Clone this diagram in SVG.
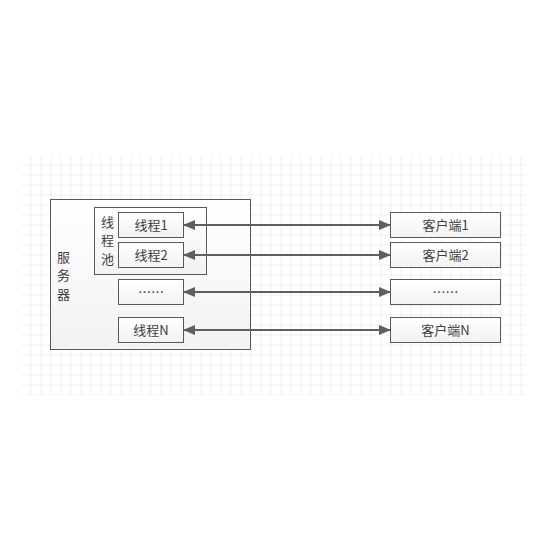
<svg xmlns="http://www.w3.org/2000/svg" width="555" height="550" viewBox="0 0 555 550">
<style>
.box{fill:url(#bf);stroke:#595959;stroke-width:1}
.t{font-family:"Microsoft YaHei","Noto Sans CJK SC",sans-serif;font-size:13px;fill:#404040;text-anchor:middle;dominant-baseline:central}
.c{stroke:#5f5f5f;stroke-width:2;fill:none;marker-start:url(#ah);marker-end:url(#ah)}
</style>
<defs>
<linearGradient id="bf" x1="0" y1="0" x2="0" y2="1"><stop offset="0" stop-color="#ffffff"/><stop offset="1" stop-color="#f2f2f2"/></linearGradient>
<pattern id="grid" x="0.5" y="4.5" width="10" height="10" patternUnits="userSpaceOnUse">
<path d="M0 0H10M0 0V10" stroke="#dedede" stroke-width="1" fill="none"/>
</pattern>
<marker id="ah" viewBox="0 0 12 10" refX="11" refY="5" markerWidth="12" markerHeight="10" markerUnits="userSpaceOnUse" orient="auto-start-reverse">
<path d="M0 0L12 5L0 10Z" fill="#5f5f5f"/>
</marker>
</defs>
<rect width="555" height="550" fill="#fff"/>
<rect x="22" y="157" width="504" height="238" fill="url(#grid)"/>
<g id="server"><rect class="box" x="50.5" y="199.5" width="200" height="150"/>
<text class="t" x="63.5" y="256">服</text><text class="t" x="63.5" y="274.5">务</text><text class="t" x="63.5" y="293">器</text></g>
<g id="pool"><rect class="box" x="94.5" y="207.5" width="112" height="67"/>
<text class="t" x="107.5" y="221">线</text><text class="t" x="107.5" y="239.5">程</text><text class="t" x="107.5" y="258">池</text></g>
<g id="t1"><rect class="box" x="118.5" y="212.5" width="65" height="25"/><text class="t" x="151" y="224">线程1</text></g>
<g id="t2"><rect class="box" x="118.5" y="242.5" width="65" height="25"/><text class="t" x="151" y="254">线程2</text></g>
<g id="td"><rect class="box" x="118.5" y="279.5" width="65" height="25"/><text class="t" x="151" y="291">……</text></g>
<g id="tn"><rect class="box" x="118.5" y="317.5" width="65" height="25"/><text class="t" x="151" y="329">线程N</text></g>
<g id="c1"><rect class="box" x="390.5" y="212.5" width="110" height="25"/><text class="t" x="445.5" y="224">客户端1</text></g>
<g id="c2"><rect class="box" x="390.5" y="242.5" width="110" height="25"/><text class="t" x="445.5" y="254">客户端2</text></g>
<g id="cd"><rect class="box" x="390.5" y="279.5" width="110" height="25"/><text class="t" x="445.5" y="291">……</text></g>
<g id="cn"><rect class="box" x="390.5" y="317.5" width="110" height="25"/><text class="t" x="445.5" y="329">客户端N</text></g>
<g id="connectors">
<path class="c" d="M184 225H390"/>
<path class="c" d="M184 255H390"/>
<path class="c" d="M184 292H390"/>
<path class="c" d="M184 330H390"/>
</g>
</svg>
